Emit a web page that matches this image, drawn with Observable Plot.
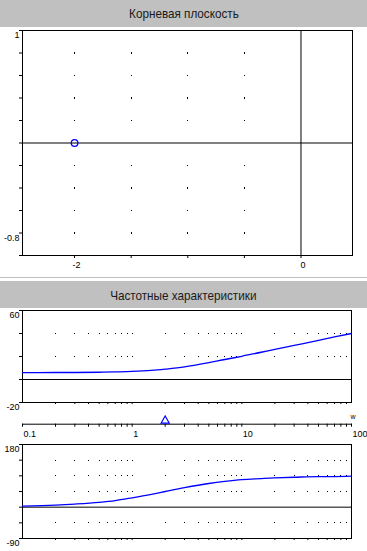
<!DOCTYPE html>
<html>
<head>
<meta charset="utf-8">
<script src="https://cdn.jsdelivr.net/npm/d3@7"></script>
<script src="https://cdn.jsdelivr.net/npm/@observablehq/plot@0.6"></script>
<style>
  html, body { margin: 0; padding: 0; background: #fff; }
  #wrap { position: relative; width: 367px; height: 551px; overflow: hidden; font-family: "Liberation Sans", Arial, sans-serif; }
  .band { position: absolute; left: 0; width: 367px; background: #c0c0c0; text-align: center; color: #1a1a1a; font-size: 13px; }
  .band span { display: inline-block; transform: scaleX(0.9); }
  .sep { position: absolute; left: 0; width: 367px; height: 1px; background: #c0c0c0; }
  #wrap svg { position: absolute; left: 0; overflow: visible; background: transparent; }
</style>
</head>
<body>
<div id="wrap">
  <div class="band" style="top:0;height:27px;line-height:28px;"><span>Корневая плоскость</span></div>
  <div class="sep" style="top:277px;"></div>
  <div class="band" style="top:281px;height:27px;line-height:29px;"><span>Частотные характеристики</span></div>
</div>
<script>
// ---------- Root plane data ----------
const rootZeroRe = [-2];
const rootZeroIm = [0];
const rootXGrid = [-2, -1.5, -1, -0.5];
const rootYGrid = [-0.8, -0.6, -0.4, -0.2, 0.2, 0.4, 0.6, 0.8];
const rootXTicks = [-2, -1.5, -1, -0.5, 0];
const rootYTicks = [-1, -0.8, -0.6, -0.4, -0.2, 0, 0.2, 0.4, 0.6, 0.8, 1];
const rootXLabels = [-2, 0];
const rootYLabels = [1, -0.8];
const rootYLabelText = ["1", "-0.8"];

// ---------- Frequency response data ----------
const freqW    = [0.1, 0.2, 0.3, 0.5, 0.7, 1, 1.5, 2, 3, 5, 7, 10, 15, 20, 30, 50, 70, 100];
const magDb    = [6.0, 6.1, 6.1, 6.3, 6.6, 7.0, 7.9, 9.0, 10.9, 14.6, 17.4, 20.2, 23.7, 26.1, 29.6, 34.0, 37.0, 40.0];
const phaseDeg = [3, 6, 9, 14, 19, 27, 37, 45, 56, 68, 74, 79, 82, 84, 86, 88, 88, 89];
const freqGrid = [0.2,0.3,0.4,0.5,0.6,0.7,0.8,0.9,1,2,3,4,5,6,7,8,9,10,20,30,40,50,60,70,80,90];
const freqTicks = [0.1,0.2,0.3,0.4,0.5,0.6,0.7,0.8,0.9,1,2,3,4,5,6,7,8,9,10,20,30,40,50,60,70,80,90,100];
const freqLabels = [0.1, 1, 10, 100];
const freqLabelText = ["0.1", "1", "10", "100"];
const freqMarker = [2];
const magYTicks = [-20, 0, 20, 40, 60];
const magYGrid = [20, 40];
const magYLabels = [60, -20];
const magYLabelText = ["60", "-20"];
const phaseYTicks = [-90, -45, 0, 45, 90, 135, 180];
const phaseYGrid = [-45, 45, 90, 135];
const phaseYLabels = [180, -90];
const phaseYLabelText = ["180", "-90"];

const BLUE = "#0000ff";
const FS = 9;
const wrap = document.getElementById("wrap");
function place(svg, top) { svg.style.top = top + "px"; wrap.appendChild(svg); }

const blank = () => "";

// ---------- Root plane ----------
const rootGridPts = d3.cross(rootXGrid, rootYGrid);
const zeros = rootZeroRe.map((re, i) => ({re, im: rootZeroIm[i]}));
const root = Plot.plot({
  width: 367, height: 250,
  marginLeft: 22, marginRight: 15, marginTop: 3, marginBottom: 22,
  style: {fontFamily: "Liberation Sans, Arial, sans-serif", fontSize: FS + "px", color: "black", background: "transparent"},
  x: {domain: [-2.46, 0.455]},
  y: {domain: [-1, 1]},
  marks: [
    Plot.dot(rootGridPts, {x: d => d[0], y: d => d[1], r: 0.6, fill: "black", symbol: "square", shapeRendering: "crispEdges"}),
    Plot.ruleY([0], {stroke: "black", strokeWidth: 1}),
    Plot.ruleX([0], {stroke: "black", strokeWidth: 1}),
    Plot.frame({stroke: "black", strokeWidth: 1}),
    Plot.axisY({ticks: rootYTicks, tickSize: 3, tickFormat: blank, label: null, strokeWidth: 1}),
    Plot.axisY({ticks: rootYLabels, tickSize: 0, tickPadding: 3, tickFormat: (d, i) => rootYLabelText[rootYLabels.indexOf(d)], dy: 5, label: null}),
    Plot.axisX({ticks: rootXTicks, tickSize: 3, tickFormat: blank, label: null}),
    Plot.axisX({ticks: rootXLabels, tickSize: 0, tickPadding: 6, dx: 2, tickFormat: d => String(d), label: null}),
    Plot.dot(zeros, {x: "re", y: "im", r: 3.3, stroke: BLUE, strokeWidth: 1.3, fill: "none"})
  ]
});
place(root, 27);

// ---------- Magnitude ----------
const freqData = freqW.map((w, i) => ({w, mag: magDb[i], ph: phaseDeg[i]}));
const xLog = {type: "log", domain: [0.1, 100]};
const commonStyle = {fontFamily: "Liberation Sans, Arial, sans-serif", fontSize: FS + "px", color: "black", background: "transparent"};

const mag = Plot.plot({
  width: 367, height: 106,
  marginLeft: 22, marginRight: 16, marginTop: 2, marginBottom: 12,
  style: commonStyle,
  x: xLog,
  y: {domain: [-20, 60]},
  marks: [
    Plot.dot(d3.cross(freqGrid, magYGrid), {x: d => d[0], y: d => d[1], r: 0.6, fill: "black", symbol: "square", shapeRendering: "crispEdges"}),
    Plot.ruleY([0], {stroke: "black"}),
    Plot.frame({stroke: "black"}),
    Plot.axisY({ticks: magYTicks, tickSize: 3, tickFormat: blank, label: null}),
    Plot.axisY({ticks: magYLabels, tickSize: 0, tickPadding: 3, dy: 5, tickFormat: d => magYLabelText[magYLabels.indexOf(d)], label: null}),
    Plot.axisX({ticks: freqGrid, tickSize: 2, tickFormat: blank, label: null}),
    Plot.line(freqData, {x: "w", y: "mag", stroke: BLUE, strokeWidth: 1.3, curve: "monotone-x"})
  ]
});
place(mag, 308);

// ---------- Middle frequency axis ----------
const mid = Plot.plot({
  width: 367, height: 36,
  marginLeft: 22, marginRight: 16, marginTop: 0, marginBottom: 17.3,
  style: commonStyle,
  x: xLog,
  marks: [
    Plot.frame({anchor: "bottom", stroke: "black"}),
    Plot.axisX({ticks: freqTicks, tickSize: 3, tickFormat: blank, label: null}),
    Plot.axisX({ticks: freqLabels, tickSize: 0, tickPadding: 6, textAnchor: "start", dx: 1, tickFormat: d => freqLabelText[freqLabels.indexOf(d)], label: null}),
    Plot.dot(freqMarker, {x: d => d, frameAnchor: "bottom", dy: -3.5, symbol: "triangle", r: 3, stroke: BLUE, strokeWidth: 1.2, fill: "none"}),
    Plot.text(["w"], {frameAnchor: "bottom-right", dx: 4, dy: -5, fontSize: 7, text: d => d, fill: "black"})
  ]
});
place(mid, 405.4);

// ---------- Phase ----------
const phase = Plot.plot({
  width: 367, height: 111,
  marginLeft: 22, marginRight: 16, marginTop: 4, marginBottom: 13,
  style: commonStyle,
  x: xLog,
  y: {domain: [-90, 180]},
  marks: [
    Plot.dot(d3.cross(freqGrid, phaseYGrid), {x: d => d[0], y: d => d[1], r: 0.6, fill: "black", symbol: "square", shapeRendering: "crispEdges"}),
    Plot.ruleY([0], {stroke: "black"}),
    Plot.frame({stroke: "black"}),
    Plot.axisY({ticks: phaseYTicks, tickSize: 3, tickFormat: blank, label: null}),
    Plot.axisY({ticks: phaseYLabels, tickSize: 0, tickPadding: 3, dy: 5, tickFormat: d => phaseYLabelText[phaseYLabels.indexOf(d)], label: null}),
    Plot.axisX({ticks: freqGrid, tickSize: 2, tickFormat: blank, label: null}),
    Plot.line(freqData, {x: "w", y: "ph", stroke: BLUE, strokeWidth: 1.3, curve: "monotone-x"})
  ]
});
place(phase, 440);
</script>
</body>
</html>
